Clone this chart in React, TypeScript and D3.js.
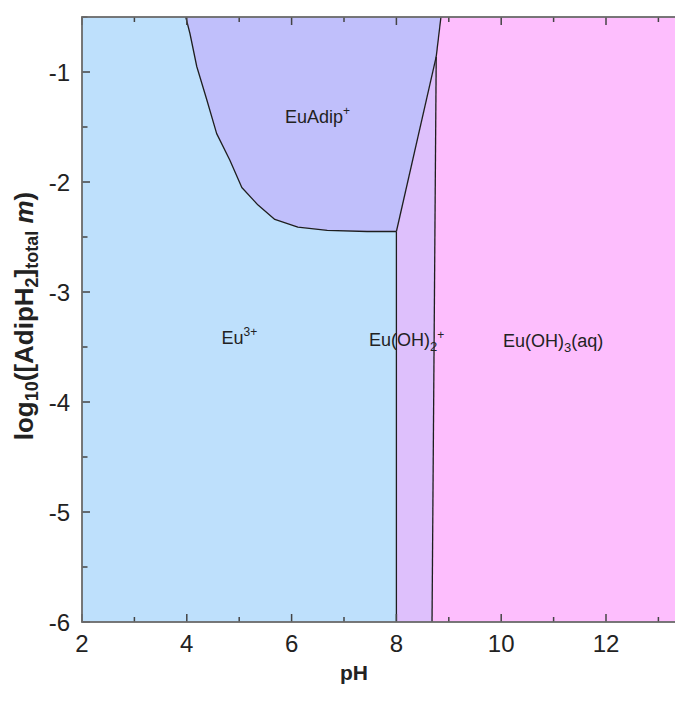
import React from "react";
import * as d3 from "d3";

// pH range and log10 concentration range
const xDomain: [number, number] = [2, 14];
const yDomain: [number, number] = [-6, -0.5];
const xMajorTicks = [2, 4, 6, 8, 10, 12, 14];
const xTickLabels = [2, 4, 6, 8, 10, 12];
const xMinorTicks = [3, 5, 7, 9, 11, 13];
const yMajorTicks = [-6, -5, -4, -3, -2, -1];
const yMinorTicks = [-5.5, -4.5, -3.5, -2.5, -1.5, -0.5];

// Boundary Eu3+ / EuAdip+ (pH, log10 conc.), from top to bottom-right
const boundaryEuAdip: [number, number][] = [
  [3.98, -0.5],
  [4.06, -0.65],
  [4.19, -0.95],
  [4.38, -1.25],
  [4.57, -1.56],
  [4.82, -1.8],
  [5.05, -2.05],
  [5.36, -2.21],
  [5.68, -2.34],
  [6.12, -2.41],
  [6.68, -2.44],
  [7.44, -2.45],
  [8.0, -2.45],
];
// Boundary Eu3+ / Eu(OH)2+
const boundaryEuOH2: [number, number][] = [
  [8.0, -2.45],
  [8.0, -6],
];
// Boundary EuAdip+ / Eu(OH)2+
const boundaryAdipOH2: [number, number][] = [
  [8.0, -2.45],
  [8.76, -0.86],
];
// Boundary Eu(OH)2+ / Eu(OH)3(aq)
const boundaryOH2OH3: [number, number][] = [
  [8.68, -6],
  [8.76, -0.86],
];
// Boundary EuAdip+ / Eu(OH)3(aq)
const boundaryAdipOH3: [number, number][] = [
  [8.76, -0.86],
  [8.85, -0.5],
];

const regionNames = ["Eu3+", "EuAdip+", "Eu(OH)2+", "Eu(OH)3(aq)"];
const regionColors = ["#bee0fc", "#c0bffb", "#dec0fc", "#fdbefd"];

const W = 675;
const H = 711;

export default function App() {
  const x = d3.scaleLinear().domain(xDomain).range([82, 82 + 12 * 52.4]);
  const y = d3.scaleLinear().domain(yDomain).range([622, 17]);
  const line = d3
    .line<[number, number]>()
    .x((d) => x(d[0]))
    .y((d) => y(d[1]));

  const [x0, x1] = xDomain;
  const [y0, y1] = yDomain;
  const curveRev = [...boundaryEuAdip].reverse();

  const polyEu3: [number, number][] = [
    [x0, y0],
    boundaryEuOH2[1],
    boundaryEuOH2[0],
    ...curveRev,
    [x0, y1],
  ];
  const polyAdip: [number, number][] = [
    ...boundaryEuAdip,
    boundaryAdipOH2[1],
    boundaryAdipOH3[1],
  ];
  const polyOH2: [number, number][] = [
    boundaryEuOH2[1],
    boundaryOH2OH3[0],
    boundaryOH2OH3[1],
    boundaryAdipOH2[0],
  ];
  const polyOH3: [number, number][] = [
    boundaryOH2OH3[0],
    [x1, y0],
    [x1, y1],
    boundaryAdipOH3[1],
    boundaryAdipOH3[0],
  ];
  const polys = [polyEu3, polyAdip, polyOH2, polyOH3];

  const frameColor = "#6a6a6a";
  const tickColor = "#444";
  const textColor = "#222";
  const font = "'Liberation Sans', Arial, Helvetica, sans-serif";

  const left = x(x0);
  const right = x(x1);
  const top = y(y1);
  const bottom = y(y0);

  return (
    <svg
      width={W}
      height={H}
      style={{ position: "absolute", left: 0, top: 0, background: "#fff" }}
      fontFamily={font}
    >
      {polys.map((p, i) => (
        <path key={regionNames[i]} d={line(p) + "Z"} fill={regionColors[i]} stroke="none" />
      ))}
      {[boundaryEuAdip, boundaryEuOH2, boundaryAdipOH2, boundaryOH2OH3, boundaryAdipOH3].map((b, i) => (
        <path key={i} d={line(b) || ""} fill="none" stroke="#1e1e1e" strokeWidth={1.3} strokeLinejoin="round" />
      ))}

      {/* ticks */}
      {xMajorTicks.map((t) => (
        <g key={"xM" + t}>
          <line x1={x(t)} x2={x(t)} y1={bottom} y2={bottom - 8} stroke={tickColor} strokeWidth={1.5} />
          <line x1={x(t)} x2={x(t)} y1={top} y2={top + 8} stroke={tickColor} strokeWidth={1.5} />
        </g>
      ))}
      {xMinorTicks.map((t) => (
        <g key={"xm" + t}>
          <line x1={x(t)} x2={x(t)} y1={bottom} y2={bottom - 5} stroke={tickColor} strokeWidth={1.5} />
          <line x1={x(t)} x2={x(t)} y1={top} y2={top + 5} stroke={tickColor} strokeWidth={1.5} />
        </g>
      ))}
      {yMajorTicks.map((t) => (
        <line key={"yM" + t} x1={left} x2={left + 8} y1={y(t)} y2={y(t)} stroke={tickColor} strokeWidth={1.5} />
      ))}
      {yMinorTicks.map((t) => (
        <line key={"ym" + t} x1={left} x2={left + 5.5} y1={y(t)} y2={y(t)} stroke={tickColor} strokeWidth={1.5} />
      ))}

      {/* frame */}
      <rect x={left} y={top} width={right - left} height={bottom - top} fill="none" stroke={frameColor} strokeWidth={1.8} />

      {/* tick labels */}
      {xTickLabels.map((t) => (
        <text key={"xl" + t} x={x(t)} y={652} textAnchor="middle" fontSize={24} fill={textColor}>
          {t}
        </text>
      ))}
      {yMajorTicks.map((t) => (
        <text key={"yl" + t} x={70} y={y(t) + 8.5} textAnchor="end" fontSize={24} fill={textColor}>
          {t}
        </text>
      ))}

      {/* axis titles */}
      <text x={354} y={680} textAnchor="middle" fontSize={21} fontWeight="bold" fill={textColor}>
        pH
      </text>
      <text
        transform="translate(33,316) rotate(-90)"
        textAnchor="middle"
        fontSize={26}
        fontWeight="bold"
        fill={textColor}
      >
        log
        <tspan fontSize={18} dy={5}>10</tspan>
        <tspan dy={-5}>([AdipH</tspan>
        <tspan fontSize={18} dy={5}>2</tspan>
        <tspan dy={-5}>]</tspan>
        <tspan fontSize={18} dy={5}>total</tspan>
        <tspan dy={-5}> </tspan>
        <tspan fontStyle="italic">m</tspan>
        <tspan>)</tspan>
      </text>

      {/* region labels */}
      <text x={285} y={123} fontSize={18} fill={textColor}>
        EuAdip<tspan fontSize={12} dy={-8}>+</tspan>
      </text>
      <text x={221.5} y={344} fontSize={18} fill={textColor}>
        Eu<tspan fontSize={12} dy={-8}>3+</tspan>
      </text>
      <text x={369} y={346} fontSize={18} fill={textColor}>
        Eu(OH)<tspan fontSize={13} dy={5}>2</tspan>
        <tspan fontSize={12} dy={-12}>+</tspan>
      </text>
      <text x={503} y={347} fontSize={18} fill={textColor}>
        Eu(OH)<tspan fontSize={13} dy={5}>3</tspan>
        <tspan dy={-5}>(aq)</tspan>
      </text>
    </svg>
  );
}
